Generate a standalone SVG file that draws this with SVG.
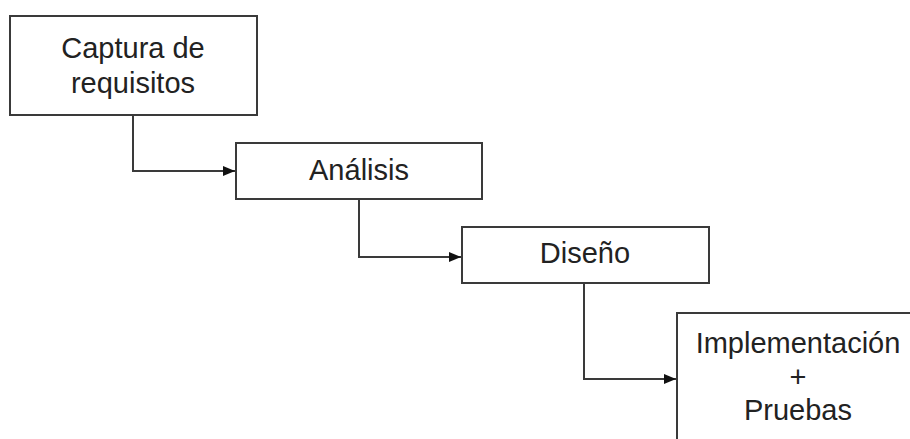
<svg xmlns="http://www.w3.org/2000/svg" width="910" height="439" viewBox="0 0 910 439">
<style>
.box{fill:#fff;stroke:#3a3a3a;stroke-width:2}
.lbl{font-family:"Liberation Sans",Arial,sans-serif;font-size:29px;fill:#222;text-anchor:middle}
.conn{fill:none;stroke:#3a3a3a;stroke-width:2}
</style>
<defs>
<marker id="arr" markerWidth="12" markerHeight="10" refX="12" refY="5" orient="auto" markerUnits="userSpaceOnUse">
<path d="M0,0 L12,5 L0,10 Z" fill="#111"/>
</marker>
</defs>
<g id="n1"><rect class="box" x="10" y="16" width="247" height="99"/>
<text class="lbl" x="133" y="58">Captura de</text><text class="lbl" x="133" y="93">requisitos</text></g>
<g id="n2"><rect class="box" x="236" y="143" width="246" height="56"/>
<text class="lbl" x="359" y="180">Análisis</text></g>
<g id="n3"><rect class="box" x="462" y="227" width="247" height="56"/>
<text class="lbl" x="585" y="263">Diseño</text></g>
<g id="n4"><rect class="box" x="677" y="313" width="250" height="140"/>
<text class="lbl" x="798" y="353">Implementación</text><text class="lbl" x="798" y="387">+</text><text class="lbl" x="798" y="420">Pruebas</text></g>
<g id="connectors">
<path class="conn" d="M133,115 V171 H235" marker-end="url(#arr)"/>
<path class="conn" d="M359,199 V257 H461" marker-end="url(#arr)"/>
<path class="conn" d="M584,283 V379 H676" marker-end="url(#arr)"/>
</g>
</svg>
